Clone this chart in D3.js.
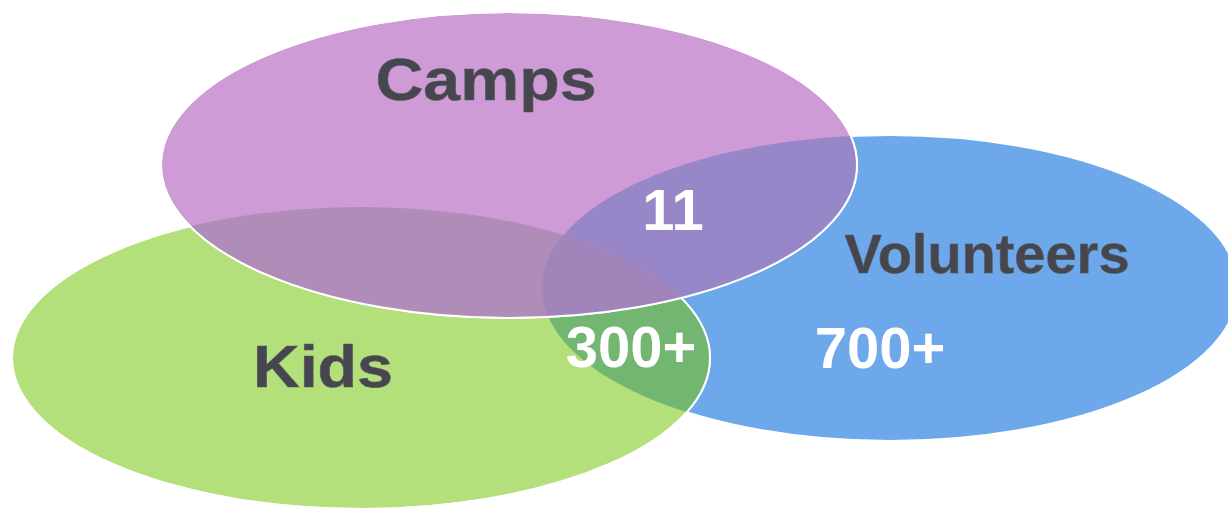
<!DOCTYPE html>
<html>
<head>
<meta charset="utf-8">
<script src="https://cdn.jsdelivr.net/npm/d3@7"></script>
<style>
  html, body { margin: 0; padding: 0; background: #ffffff; }
  svg { display: block; }
</style>
</head>
<body>
<div id="venn"></div>
<script>
// sets of the diagram, bottom layer first
var sets = ["Volunteers", "Kids", "Camps"];
// numbers written inside the diagram
var counts = ["11", "300+", "700+"];
var countSets = ["Camps", "Kids", "Volunteers"];

var width = 1228, height = 508;

var svg = d3.select("#venn")
    .append("svg")
    .attr("width", width)
    .attr("height", height);

// layout of each set ellipse (centre + radii) in pixels
var shape = {
    "Camps":      {cx: 509, cy: 165, rx: 348, ry: 153},
    "Volunteers": {cx: 890, cy: 288, rx: 348, ry: 153},
    "Kids":       {cx: 361, cy: 358, rx: 349, ry: 151}
};

// color palette, one per set
var color = d3.scaleOrdinal()
    .domain(["Camps", "Volunteers", "Kids"])
    .range(["#cf9bd6", "#6ca8ea", "#b3e07b"]);

// colors of the overlapping parts
var overlapColor = {
    "Volunteers&Kids": "#72b671",
    "Camps&Volunteers": "#9887c8",
    "Camps&Kids": "#b08cb9",
    "Camps&Volunteers&Kids": "#a084ba"
};

function ellipse(sel, d) {
    return sel.append("ellipse")
        .attr("cx", shape[d].cx)
        .attr("cy", shape[d].cy)
        .attr("rx", shape[d].rx)
        .attr("ry", shape[d].ry);
}

// clip paths, one per set
var defs = svg.append("defs");
sets.forEach(function(d) {
    ellipse(defs.append("clipPath").attr("id", "clip-" + d), d);
});

function outline(d) {
    ellipse(svg, d)
        .style("fill", "none")
        .style("stroke", "#ffffff")
        .style("stroke-width", 2);
}

function fillSet(d) {
    ellipse(svg, d)
        .style("fill", color(d))
        .style("stroke", "#ffffff")
        .style("stroke-width", 2);
}

// Volunteers at the bottom
fillSet("Volunteers");

// Kids and its overlap with Volunteers
fillSet("Kids");
ellipse(svg.append("g").attr("clip-path", "url(#clip-Kids)"), "Volunteers")
    .style("fill", overlapColor["Volunteers&Kids"]);
outline("Kids");

// Camps on top, with its overlaps
fillSet("Camps");
ellipse(svg.append("g").attr("clip-path", "url(#clip-Camps)"), "Volunteers")
    .style("fill", overlapColor["Camps&Volunteers"]);
ellipse(svg.append("g").attr("clip-path", "url(#clip-Camps)"), "Kids")
    .style("fill", overlapColor["Camps&Kids"]);
ellipse(svg.append("g").attr("clip-path", "url(#clip-Camps)")
        .append("g").attr("clip-path", "url(#clip-Kids)"), "Volunteers")
    .style("fill", overlapColor["Camps&Volunteers&Kids"]);
outline("Camps");

// set names
var namePos = {
    "Camps":      {x: 486, y: 100, len: 221, size: 60},
    "Volunteers": {x: 987, y: 273, len: 285, size: 55},
    "Kids":       {x: 323, y: 387, len: 140, size: 60}
};

svg.selectAll(".setName")
    .data(["Camps", "Volunteers", "Kids"])
    .enter()
    .append("text")
    .attr("class", "setName")
    .attr("x", function(d) { return namePos[d].x; })
    .attr("y", function(d) { return namePos[d].y; })
    .attr("text-anchor", "middle")
    .attr("textLength", function(d) { return namePos[d].len; })
    .attr("lengthAdjust", "spacingAndGlyphs")
    .style("font-family", "'Liberation Sans', Arial, Helvetica, sans-serif")
    .style("font-weight", "bold")
    .style("font-size", function(d) { return namePos[d].size + "px"; })
    .style("fill", "#46464e")
    .style("stroke", "#5a5a62")
    .style("stroke-width", 0.6)
    .text(function(d) { return d; });

// counts
var countPos = {
    "Camps":      {x: 673, y: 230},
    "Kids":       {x: 631, y: 367},
    "Volunteers": {x: 880, y: 368}
};

svg.selectAll(".count")
    .data(counts)
    .enter()
    .append("text")
    .attr("class", "count")
    .attr("x", function(d, i) { return countPos[countSets[i]].x; })
    .attr("y", function(d, i) { return countPos[countSets[i]].y; })
    .attr("text-anchor", "middle")
    .style("font-family", "'Liberation Sans', Arial, Helvetica, sans-serif")
    .style("font-weight", "bold")
    .style("font-size", "58px")
    .style("fill", "#ffffff")
    .text(function(d) { return d; });
</script>
</body>
</html>
